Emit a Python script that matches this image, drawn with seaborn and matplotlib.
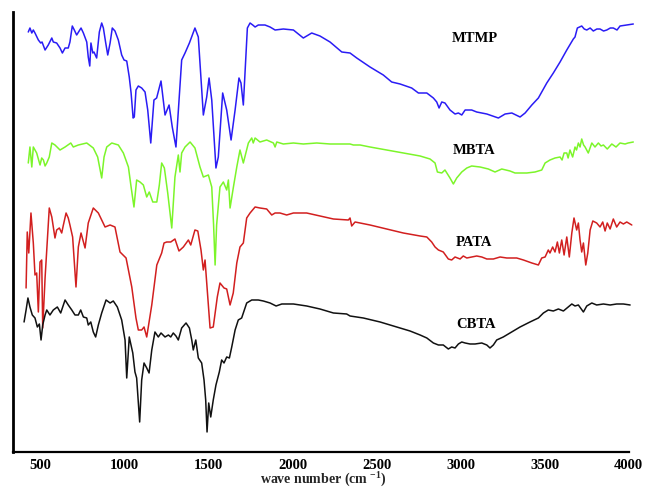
import numpy as np
import pandas as pd
import matplotlib
matplotlib.use("Agg")
import matplotlib.pyplot as plt
import seaborn as sns

# ---- data (wavenumber cm^-1, transmittance a.u., curves stacked) ----
mtmp_wn = [426, 436, 447, 456, 466, 486, 500, 508, 526, 545, 566, 575, 595, 615, 629, 645, 664, 674, 688, 700,
           714, 740, 754, 774, 783, 792, 799, 810, 817, 833, 849, 863, 873, 887, 899, 913, 926, 942, 962, 982,
           996, 1012, 1027, 1038, 1050, 1057, 1067, 1081, 1101, 1121, 1137, 1155, 1174, 1190, 1216, 1240, 1264,
           1283, 1305, 1339, 1359, 1385, 1418, 1438, 1468, 1488, 1502, 1518, 1543, 1557, 1583, 1607, 1633, 1657,
           1680, 1692, 1706, 1730, 1746, 1762, 1776, 1795, 1835, 1865, 1895, 1944, 2004, 2063, 2113, 2162, 2222,
           2292, 2341, 2381, 2460, 2539, 2589, 2639, 2708, 2748, 2798, 2837, 2857, 2871, 2887, 2906, 2936, 2966,
           2986, 3006, 3026, 3065, 3095, 3155, 3224, 3264, 3304, 3353, 3383, 3423, 3462, 3512, 3551, 3591, 3631,
           3670, 3680, 3694, 3720, 3735, 3750, 3770, 3789, 3810, 3829, 3850, 3869, 3890, 3908, 3930, 3948, 3988, 4027]
mtmp_t = [420, 424, 419, 422, 419, 412, 409, 410, 402, 407, 414, 410, 409, 404, 399, 404, 404, 410, 426, 422,
          417, 424, 419, 410, 395, 386, 409, 399, 400, 394, 420, 429, 424, 409, 397, 409, 424, 421, 412, 397,
          392, 391, 375, 359, 334, 335, 362, 366, 364, 360, 342, 309, 352, 354, 371, 337, 347,
          325, 305, 392, 399, 409, 424, 415, 337, 355, 374, 352, 284, 295, 359, 342, 312, 342,
          374, 369, 347, 424, 429, 427, 425, 427, 427, 425, 422, 423, 422, 414, 419, 416, 410,
          400, 399, 394, 385, 377, 370, 368, 364, 359, 359, 354, 350, 344, 350, 349, 342, 338,
          339, 337, 342, 342, 340, 338, 334, 338, 339, 335, 339, 347, 354, 369, 379, 390, 402,
          413, 415, 424, 426, 423, 422, 424, 421, 423, 423, 421, 422, 424, 424, 422, 426, 427, 428]

mbta_wn = [426, 436, 447, 456, 476, 496, 506, 516, 526, 536, 551, 566, 585, 615, 645, 679, 694, 724, 774, 813,
           839, 863, 877, 893, 923, 962, 992, 1022, 1038, 1055, 1071, 1091, 1111, 1131, 1146, 1167, 1191, 1206,
           1220, 1236, 1256, 1280, 1299, 1319, 1329, 1339, 1359, 1389, 1418, 1448, 1468, 1498, 1518, 1529, 1538,
           1547, 1567, 1587, 1607, 1617, 1627, 1646, 1667, 1686, 1706, 1736, 1756, 1765, 1776, 1805, 1845, 1885,
           1895, 1905, 1944, 2004, 2063, 2143, 2222, 2262, 2341, 2361, 2401, 2460, 2560, 2658, 2758, 2817, 2847,
           2861, 2887, 2906, 2936, 2956, 2976, 3006, 3036, 3065, 3115, 3164, 3204, 3244, 3293, 3323, 3393, 3442,
           3482, 3502, 3531, 3561, 3591, 3603, 3615, 3631, 3639, 3650, 3666, 3680, 3689, 3700, 3710, 3720, 3731,
           3740, 3759, 3780, 3799, 3819, 3835, 3849, 3872, 3899, 3924, 3948, 3978, 3996, 4027]
mbta_t = [289, 305, 285, 305, 299, 287, 294, 292, 286, 289, 295, 309, 307, 302, 305, 309, 305, 307, 309, 304,
          295, 274, 295, 305, 309, 307, 299, 285, 265, 245, 272, 270, 267, 255, 260, 250, 250, 267,
          289, 284, 259, 224, 275, 297, 280, 299, 305, 310, 304, 285, 275, 277, 265, 227, 187,
          227, 265, 270, 262, 272, 244, 264, 285, 302, 289, 309, 314, 309, 314, 310, 312, 309,
          305, 310, 308, 309, 308, 309, 308, 308, 308, 307, 307, 305, 302, 299, 296, 293, 289,
          280, 279, 282, 274, 268, 274, 280, 284, 286, 285, 283, 280, 283, 281, 279, 279, 280,
          282, 289, 292, 294, 295, 292, 299, 299, 294, 302, 295, 305, 302, 309, 305, 313, 307,
          305, 299, 309, 305, 309, 306, 307, 303, 308, 305, 309, 308, 309, 310]

pata_wn = [413, 420, 429, 442, 456, 466, 476, 486, 496, 506, 512, 526, 551, 566, 585, 595, 611, 625, 635, 651,
           664, 674, 690, 710, 724, 740, 764, 783, 813, 843, 883, 913, 942, 972, 1008, 1042, 1067, 1081, 1101,
           1115, 1131, 1161, 1191, 1220, 1234, 1250, 1274, 1299, 1323, 1349, 1379, 1393, 1418, 1435, 1454, 1468,
           1478, 1508, 1527, 1551, 1567, 1591, 1607, 1627, 1646, 1667, 1686, 1706, 1726, 1746, 1776, 1805, 1845,
           1875, 1895, 1924, 1964, 2004, 2083, 2162, 2242, 2331, 2341, 2351, 2371, 2460, 2560, 2658, 2758, 2798,
           2827, 2847, 2867, 2896, 2926, 2946, 2966, 2996, 3015, 3036, 3065, 3095, 3125, 3155, 3194, 3234, 3274,
           3333, 3373, 3423, 3462, 3482, 3502, 3521, 3531, 3547, 3561, 3575, 3587, 3601, 3615, 3631, 3646, 3661,
           3674, 3690, 3700, 3710, 3720, 3730, 3744, 3756, 3770, 3786, 3809, 3829, 3845, 3859, 3872, 3889, 3908,
           3928, 3948, 3968, 3988, 4018]
pata_t = [164, 220, 199, 239, 209, 177, 179, 140, 190, 192, 124, 174, 244, 235, 214, 222, 224, 219, 227, 239,
          234, 227, 215, 165, 205, 219, 204, 229, 244, 239, 225, 227, 225, 200, 194, 165, 134, 122, 122,
          125, 115, 147, 187, 199, 209, 210, 210, 213, 201, 205, 212, 207, 222, 221, 202, 182,
          192, 124, 125, 155, 169, 164, 163, 147, 159, 189, 205, 209, 234, 239, 245, 244, 243,
          237, 239, 239, 237, 239, 239, 236, 233, 232, 234, 226, 230, 227, 223, 219, 216, 215,
          210, 205, 202, 200, 193, 192, 195, 193, 196, 194, 195, 196, 195, 193, 193, 195, 194,
          194, 192, 189, 187, 194, 195, 202, 199, 205, 200, 210, 199, 212, 197, 215, 195, 219,
          234, 222, 229, 212, 200, 209, 187, 199, 222, 231, 229, 225, 230, 221, 229, 223, 233,
          225, 230, 228, 230, 227]

cbta_wn = [401, 413, 424, 436, 450, 466, 480, 492, 502, 512, 526, 536, 555, 575, 599, 619, 645, 664, 685, 704,
           724, 738, 754, 774, 783, 798, 813, 827, 843, 863, 889, 913, 932, 956, 982, 1002, 1012, 1027, 1048,
           1061, 1071, 1089, 1101, 1115, 1131, 1145, 1161, 1180, 1200, 1216, 1240, 1260, 1274, 1289, 1305, 1319,
           1339, 1365, 1385, 1399, 1408, 1423, 1438, 1458, 1472, 1482, 1490, 1500, 1512, 1527, 1543, 1563, 1577,
           1591, 1607, 1623, 1637, 1657, 1676, 1696, 1706, 1726, 1756, 1795, 1825, 1865, 1901, 1935, 2004, 2083,
           2162, 2242, 2321, 2341, 2420, 2520, 2619, 2698, 2758, 2798, 2837, 2867, 2896, 2926, 2946, 2966, 2986,
           3006, 3026, 3055, 3085, 3125, 3155, 3174, 3194, 3214, 3253, 3293, 3353, 3412, 3462, 3492, 3521, 3551,
           3581, 3611, 3640, 3661, 3680, 3700, 3730, 3750, 3780, 3809, 3849, 3889, 3928, 3968, 4008]
cbta_t = [130, 142, 154, 145, 137, 134, 125, 128, 112, 127, 137, 142, 137, 142, 145, 139, 152, 147, 142, 137,
          137, 142, 135, 134, 127, 130, 120, 115, 127, 139, 152, 149, 151, 145, 132, 112, 74, 115, 99,
          80, 74, 30, 72, 89, 84, 79, 102, 120, 115, 119, 115, 117, 115, 119, 116, 112,
          124, 129, 124, 112, 102, 112, 94, 89, 72, 52, 20, 49, 35, 52, 67, 80, 92,
          89, 95, 94, 105, 122, 132, 134, 139, 149, 152, 152, 151, 149, 146, 148, 148, 146,
          143, 139, 138, 136, 134, 130, 125, 121, 117, 114, 109, 107, 107, 103, 105, 104, 108,
          110, 109, 108, 108, 109, 107, 104, 107, 112, 115, 119, 125, 130, 134, 139, 142, 141,
          143, 141, 145, 148, 146, 147, 140, 146, 149, 147, 148, 147, 148, 148, 147]

names = ["MTMP", "MBTA", "PATA", "CBTA"]
colors = {"MTMP": "#2a1cf5", "MBTA": "#7cf52a", "PATA": "#d21f1f", "CBTA": "#111111"}
x_ticks = [500, 1000, 1500, 2000, 2500, 3000, 3500, 4000]

frames = []
for n, w, t in zip(names, [mtmp_wn, mbta_wn, pata_wn, cbta_wn], [mtmp_t, mbta_t, pata_t, cbta_t]):
    frames.append(pd.DataFrame({"wn": w, "T": t, "sample": n}))
df = pd.concat(frames, ignore_index=True)

# ---- styling ----
sns.set_style("white")
plt.rcParams["font.family"] = ["Liberation Serif", "DejaVu Serif"]
plt.rcParams["font.weight"] = "bold"
plt.rcParams["mathtext.fontset"] = "custom"
plt.rcParams["mathtext.rm"] = "Liberation Serif:bold"
plt.rcParams["mathtext.bf"] = "Liberation Serif:bold"
plt.rcParams["mathtext.default"] = "bf"

fig = plt.figure(figsize=(6.49, 4.88), dpi=100)
ax = fig.add_axes([0.0200, 0.0738, 0.9566, 0.9016])

sns.lineplot(data=df, x="wn", y="T", hue="sample", palette=colors, estimator=None,
             units="sample", sort=False, linewidth=1.1, legend=False, ax=ax)

ax.set_xlim(335, 4030)
ax.set_ylim(0, 440)
ax.spines["bottom"].set_bounds(335, 4000)
for s in ["top", "right"]:
    ax.spines[s].set_visible(False)
ax.spines["left"].set_linewidth(2.0)
ax.spines["bottom"].set_linewidth(1.6)
ax.spines["left"].set_color("black")
ax.spines["bottom"].set_color("black")

ax.set_yticks([])
ax.set_ylabel("")
ax.set_xticks(x_ticks)
ax.set_xticklabels([str(v) for v in x_ticks], fontsize=10.5, fontweight="bold")
ax.set_xticks([750, 1250, 1750, 2250, 2750, 3250, 3750], minor=True)
ax.tick_params(axis="x", which="major", direction="out", length=3.5, width=1.3, pad=1.5, colors="black")
ax.tick_params(axis="x", which="minor", direction="out", length=2.2, width=1.2)
ax.set_xlabel(r"wave number (cm $^{-1}$)", fontsize=10, fontweight="bold")
ax.xaxis.label.set_verticalalignment("center")
ax.xaxis.set_label_coords(0.5, -0.063)

label_pos = {"MTMP": (3085, 414), "MBTA": (3081, 301), "PATA": (3077, 209), "CBTA": (3091, 127)}
for n in names:
    x, y = label_pos[n]
    ax.text(x, y, n, ha="center", va="center", fontsize=10.5, fontweight="bold", color="black")

fig.savefig("out.png", dpi=100)
